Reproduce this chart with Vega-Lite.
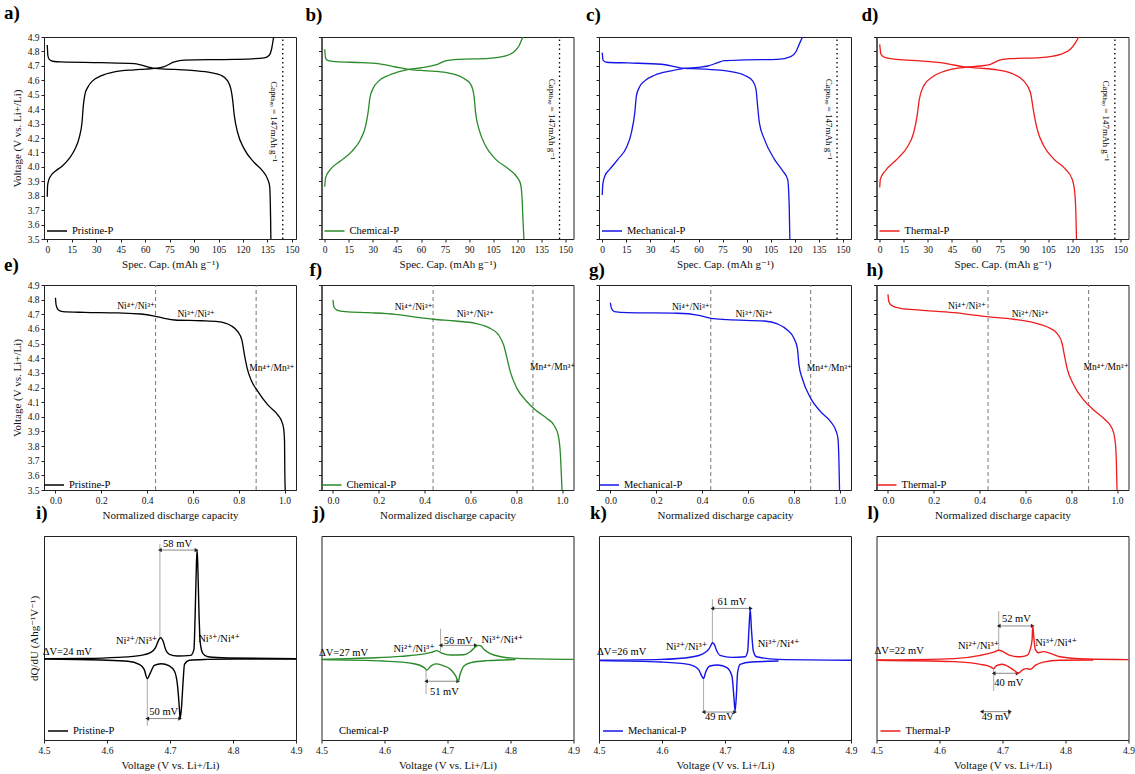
{
"$schema":"https://vega.github.io/schema/vega-lite/v6.json",
"background":"white",
"padding":{"left":3,"top":3,"right":0,"bottom":0},
"autosize":{"type":"pad"},
"config":{
"font":"'Liberation Serif', 'Times New Roman', 'DejaVu Serif', serif",
"view":{"stroke":"#222","strokeWidth":1},
"axis":{"grid":false,"labelFont":"'Liberation Serif', 'Times New Roman', 'DejaVu Serif', serif","titleFont":"'Liberation Serif', 'Times New Roman', 'DejaVu Serif', serif","labelFontSize":9.5,"titleFontSize":11,"titleFontWeight":"normal","labelColor":"#111","titleColor":"#111","tickColor":"#222","domainColor":"#222","tickSize":3,"labelPadding":2,"titlePadding":5,"labelFlush":false,"labelOverlap":false},
"legend":{"orient":"bottom-left","symbolType":"stroke","symbolSize":400,"symbolStrokeWidth":1.5,"labelFont":"'Liberation Serif', 'Times New Roman', 'DejaVu Serif', serif","labelFontSize":10.5,"labelColor":"#000","padding":0,"labelOffset":4},
"title":{"font":"'Liberation Serif', 'Times New Roman', 'DejaVu Serif', serif","fontSize":19,"fontWeight":"bold","anchor":"start","frame":"group","color":"#000"},
"text":{"font":"'Liberation Serif', 'Times New Roman', 'DejaVu Serif', serif"}
},
"datasets":{
"vr":[
{"p":"a","x":144.4,"y":3.5,"y2":4.9},{"p":"b","x":146.3,"y":3.5,"y2":4.9},{"p":"c","x":146.3,"y":3.5,"y2":4.9},{"p":"d","x":146.5,"y":3.5,"y2":4.9},
{"p":"e","x":0.437,"y":3.5,"y2":4.9},{"p":"e","x":0.876,"y":3.5,"y2":4.9},{"p":"f","x":0.437,"y":3.5,"y2":4.9},{"p":"f","x":0.873,"y":3.5,"y2":4.9},
{"p":"g","x":0.438,"y":3.5,"y2":4.9},{"p":"g","x":0.874,"y":3.5,"y2":4.9},{"p":"h","x":0.437,"y":3.5,"y2":4.9},{"p":"h","x":0.876,"y":3.5,"y2":4.9},
{"p":"i","x":4.684,"y":50,"y2":96},{"p":"i","x":4.664,"y":7,"y2":30},
{"p":"j","x":4.689,"y":43.6,"y2":54.6},{"p":"j","x":4.666,"y":22.4,"y2":34.3},
{"p":"k","x":4.68,"y":47.7,"y2":69},{"p":"k","x":4.666,"y":13.7,"y2":30.1},
{"p":"l","x":4.694,"y":43.6,"y2":63.2},{"p":"l","x":4.686,"y":24,"y2":35}
],
"ar":[
{"p":"i","x":4.684,"x2":4.742,"y":93.1},{"p":"i","x":4.664,"x2":4.716,"y":10.5},
{"p":"j","x":4.689,"x2":4.745,"y":46.4},{"p":"j","x":4.666,"x2":4.717,"y":28.8},
{"p":"k","x":4.68,"x2":4.741,"y":64.5},{"p":"k","x":4.666,"x2":4.716,"y":13.7},
{"p":"l","x":4.694,"x2":4.748,"y":55.9},{"p":"l","x":4.686,"x2":4.724,"y":32.7},{"p":"l","x":4.667,"x2":4.712,"y":13.9}
],
"cap":[
{"p":"a","x":139.2,"y":4.314,"t":"Capₜₕₑₒ = 147mAh g⁻¹"},{"p":"b","x":141.7,"y":4.33,"t":"Capₜₕₑₒ = 147mAh g⁻¹"},{"p":"c","x":141.3,"y":4.33,"t":"Capₜₕₑₒ = 147mAh g⁻¹"},{"p":"d","x":141.1,"y":4.319,"t":"Capₜₕₑₒ = 147mAh g⁻¹"}
],
"tx":[
{"p":"e","x":0.352,"y":4.757,"t":"Ni⁴⁺/Ni³⁺"},{"p":"e","x":0.614,"y":4.702,"t":"Ni³⁺/Ni²⁺"},{"p":"e","x":0.945,"y":4.335,"t":"Mn⁴⁺/Mn³⁺"},
{"p":"f","x":0.352,"y":4.752,"t":"Ni⁴⁺/Ni³⁺"},{"p":"f","x":0.622,"y":4.7,"t":"Ni³⁺/Ni²⁺"},{"p":"f","x":0.959,"y":4.342,"t":"Mn⁴⁺/Mn³⁺"},
{"p":"g","x":0.351,"y":4.747,"t":"Ni⁴⁺/Ni³⁺"},{"p":"g","x":0.627,"y":4.702,"t":"Ni³⁺/Ni²⁺"},{"p":"g","x":0.956,"y":4.335,"t":"Mn⁴⁺/Mn³⁺"},
{"p":"h","x":0.345,"y":4.757,"t":"Ni⁴⁺/Ni³⁺"},{"p":"h","x":0.622,"y":4.702,"t":"Ni³⁺/Ni²⁺"},{"p":"h","x":0.952,"y":4.338,"t":"Mn⁴⁺/Mn³⁺"},
{"p":"i","x":4.537,"y":43.1,"t":"ΔV=24 mV"},{"p":"i","x":4.647,"y":48.5,"t":"Ni²⁺/Ni³⁺"},{"p":"i","x":4.778,"y":49.3,"t":"Ni³⁺/Ni⁴⁺"},{"p":"i","x":4.712,"y":95.9,"t":"58 mV"},{"p":"i","x":4.69,"y":13.7,"t":"50 mV"},
{"p":"j","x":4.535,"y":42.8,"t":"ΔV=27 mV"},{"p":"j","x":4.647,"y":44.4,"t":"Ni²⁺/Ni³⁺"},{"p":"j","x":4.787,"y":48.9,"t":"Ni³⁺/Ni⁴⁺"},{"p":"j","x":4.717,"y":48.4,"t":"56 mV"},{"p":"j","x":4.695,"y":23.7,"t":"51 mV"},
{"p":"k","x":4.536,"y":43.1,"t":"ΔV=26 mV"},{"p":"k","x":4.639,"y":45.8,"t":"Ni²⁺/Ni³⁺"},{"p":"k","x":4.785,"y":46.9,"t":"Ni³⁺/Ni⁴⁺"},{"p":"k","x":4.711,"y":67.6,"t":"61 mV"},{"p":"k","x":4.691,"y":11.3,"t":"49 mV"},
{"p":"l","x":4.536,"y":43.6,"t":"ΔV=22 mV"},{"p":"l","x":4.662,"y":46.1,"t":"Ni²⁺/Ni³⁺"},{"p":"l","x":4.785,"y":47.7,"t":"Ni³⁺/Ni⁴⁺"},{"p":"l","x":4.722,"y":59.2,"t":"52 mV"},{"p":"l","x":4.71,"y":28.1,"t":"40 mV"},{"p":"l","x":4.69,"y":11.4,"t":"49 mV"}
],
"cv":[
{"p":"a","s":"c","x":0,"y":3.793},{"p":"a","s":"c","x":0.2,"y":3.87},{"p":"a","s":"c","x":0.8,"y":3.904},{"p":"a","s":"c","x":2.2,"y":3.938},{"p":"a","s":"c","x":5.3,"y":3.973},{"p":"a","s":"c","x":9.4,"y":4.007},{"p":"a","s":"c","x":13.5,"y":4.058},{"p":"a","s":"c","x":17,"y":4.123},{"p":"a","s":"c","x":19.6,"y":4.203},{"p":"a","s":"c","x":21.3,"y":4.307},{"p":"a","s":"c","x":22.1,"y":4.423},{"p":"a","s":"c","x":23.1,"y":4.503},{"p":"a","s":"c","x":24.7,"y":4.549},{"p":"a","s":"c","x":27.8,"y":4.596},{"p":"a","s":"c","x":32.9,"y":4.63},{"p":"a","s":"c","x":41.1,"y":4.658},{"p":"a","s":"c","x":53.3,"y":4.672},{"p":"a","s":"c","x":60,"y":4.677},{"p":"a","s":"c","x":66,"y":4.682},{"p":"a","s":"c","x":71.7,"y":4.695},{"p":"a","s":"c","x":77.9,"y":4.727},{"p":"a","s":"c","x":84,"y":4.74},{"p":"a","s":"c","x":114.7,"y":4.745},{"p":"a","s":"c","x":133,"y":4.755},{"p":"a","s":"c","x":136.1,"y":4.773},{"p":"a","s":"c","x":137.5,"y":4.815},{"p":"a","s":"c","x":138.4,"y":4.872},{"p":"a","s":"c","x":138.8,"y":4.9},
{"p":"a","s":"d","x":0,"y":4.845},{"p":"a","s":"d","x":0.4,"y":4.77},{"p":"a","s":"d","x":1.2,"y":4.745},{"p":"a","s":"d","x":3.3,"y":4.732},{"p":"a","s":"d","x":8.4,"y":4.727},{"p":"a","s":"d","x":32.9,"y":4.722},{"p":"a","s":"d","x":53.3,"y":4.715},{"p":"a","s":"d","x":57.4,"y":4.706},{"p":"a","s":"d","x":62,"y":4.692},{"p":"a","s":"d","x":66,"y":4.682},{"p":"a","s":"d","x":72,"y":4.678},{"p":"a","s":"d","x":77.9,"y":4.675},{"p":"a","s":"d","x":90.1,"y":4.667},{"p":"a","s":"d","x":100.3,"y":4.653},{"p":"a","s":"d","x":106.5,"y":4.635},{"p":"a","s":"d","x":110.6,"y":4.596},{"p":"a","s":"d","x":112.6,"y":4.538},{"p":"a","s":"d","x":113.6,"y":4.469},{"p":"a","s":"d","x":114.7,"y":4.353},{"p":"a","s":"d","x":116.7,"y":4.238},{"p":"a","s":"d","x":120.8,"y":4.123},{"p":"a","s":"d","x":126.9,"y":4.03},{"p":"a","s":"d","x":132,"y":3.973},{"p":"a","s":"d","x":135.1,"y":3.915},{"p":"a","s":"d","x":136.3,"y":3.869},{"p":"a","s":"d","x":136.7,"y":3.777},{"p":"a","s":"d","x":136.9,"y":3.662},{"p":"a","s":"d","x":137.1,"y":3.5},
{"p":"b","s":"c","x":0,"y":3.862},{"p":"b","s":"c","x":0.6,"y":3.927},{"p":"b","s":"c","x":3.7,"y":3.984},{"p":"b","s":"c","x":10,"y":4.042},{"p":"b","s":"c","x":17.2,"y":4.111},{"p":"b","s":"c","x":22.4,"y":4.192},{"p":"b","s":"c","x":25.5,"y":4.284},{"p":"b","s":"c","x":27,"y":4.376},{"p":"b","s":"c","x":28.2,"y":4.48},{"p":"b","s":"c","x":30.1,"y":4.543},{"p":"b","s":"c","x":33.8,"y":4.596},{"p":"b","s":"c","x":40,"y":4.635},{"p":"b","s":"c","x":48.3,"y":4.665},{"p":"b","s":"c","x":52.5,"y":4.675},{"p":"b","s":"c","x":60.8,"y":4.688},{"p":"b","s":"c","x":69.1,"y":4.706},{"p":"b","s":"c","x":75.3,"y":4.734},{"p":"b","s":"c","x":83.6,"y":4.745},{"p":"b","s":"c","x":102.3,"y":4.752},{"p":"b","s":"c","x":112.7,"y":4.769},{"p":"b","s":"c","x":117.8,"y":4.796},{"p":"b","s":"c","x":121,"y":4.838},{"p":"b","s":"c","x":123.4,"y":4.9},
{"p":"b","s":"d","x":0,"y":4.815},{"p":"b","s":"d","x":0.6,"y":4.75},{"p":"b","s":"d","x":2.7,"y":4.734},{"p":"b","s":"d","x":6.8,"y":4.729},{"p":"b","s":"d","x":23.4,"y":4.722},{"p":"b","s":"d","x":35.9,"y":4.711},{"p":"b","s":"d","x":44.2,"y":4.692},{"p":"b","s":"d","x":52.5,"y":4.675},{"p":"b","s":"d","x":60,"y":4.668},{"p":"b","s":"d","x":69.1,"y":4.662},{"p":"b","s":"d","x":77.4,"y":4.649},{"p":"b","s":"d","x":85.7,"y":4.619},{"p":"b","s":"d","x":90.9,"y":4.573},{"p":"b","s":"d","x":93,"y":4.492},{"p":"b","s":"d","x":94,"y":4.376},{"p":"b","s":"d","x":96.1,"y":4.261},{"p":"b","s":"d","x":100.2,"y":4.146},{"p":"b","s":"d","x":106.4,"y":4.054},{"p":"b","s":"d","x":114.7,"y":3.984},{"p":"b","s":"d","x":119.9,"y":3.927},{"p":"b","s":"d","x":122,"y":3.881},{"p":"b","s":"d","x":123,"y":3.777},{"p":"b","s":"d","x":123.4,"y":3.662},{"p":"b","s":"d","x":124.1,"y":3.5},
{"p":"c","s":"c","x":0,"y":3.805},{"p":"c","s":"c","x":0.4,"y":3.881},{"p":"c","s":"c","x":1.7,"y":3.938},{"p":"c","s":"c","x":4.8,"y":3.984},{"p":"c","s":"c","x":9.9,"y":4.054},{"p":"c","s":"c","x":15.1,"y":4.134},{"p":"c","s":"c","x":18.2,"y":4.238},{"p":"c","s":"c","x":20.3,"y":4.376},{"p":"c","s":"c","x":21.3,"y":4.492},{"p":"c","s":"c","x":23,"y":4.549},{"p":"c","s":"c","x":26.5,"y":4.596},{"p":"c","s":"c","x":32.7,"y":4.635},{"p":"c","s":"c","x":43,"y":4.665},{"p":"c","s":"c","x":51,"y":4.682},{"p":"c","s":"c","x":59.6,"y":4.69},{"p":"c","s":"c","x":65.8,"y":4.699},{"p":"c","s":"c","x":72,"y":4.722},{"p":"c","s":"c","x":76.1,"y":4.736},{"p":"c","s":"c","x":88.6,"y":4.741},{"p":"c","s":"c","x":109.2,"y":4.745},{"p":"c","s":"c","x":117.5,"y":4.764},{"p":"c","s":"c","x":120.6,"y":4.796},{"p":"c","s":"c","x":122.7,"y":4.849},{"p":"c","s":"c","x":124.8,"y":4.9},
{"p":"c","s":"d","x":0,"y":4.792},{"p":"c","s":"d","x":0.6,"y":4.738},{"p":"c","s":"d","x":2.7,"y":4.725},{"p":"c","s":"d","x":16.1,"y":4.72},{"p":"c","s":"d","x":36.8,"y":4.711},{"p":"c","s":"d","x":45.1,"y":4.695},{"p":"c","s":"d","x":51,"y":4.682},{"p":"c","s":"d","x":60,"y":4.679},{"p":"c","s":"d","x":67.9,"y":4.674},{"p":"c","s":"d","x":80.3,"y":4.66},{"p":"c","s":"d","x":88.6,"y":4.635},{"p":"c","s":"d","x":93.7,"y":4.596},{"p":"c","s":"d","x":95.8,"y":4.538},{"p":"c","s":"d","x":96.8,"y":4.423},{"p":"c","s":"d","x":97.9,"y":4.307},{"p":"c","s":"d","x":101,"y":4.192},{"p":"c","s":"d","x":107.2,"y":4.054},{"p":"c","s":"d","x":112.4,"y":3.973},{"p":"c","s":"d","x":115.5,"y":3.915},{"p":"c","s":"d","x":116.1,"y":3.846},{"p":"c","s":"d","x":116.5,"y":3.731},{"p":"c","s":"d","x":116.9,"y":3.5},
{"p":"d","s":"c","x":0,"y":3.858},{"p":"d","s":"c","x":0.4,"y":3.915},{"p":"d","s":"c","x":3.5,"y":3.973},{"p":"d","s":"c","x":10.8,"y":4.054},{"p":"d","s":"c","x":17,"y":4.134},{"p":"d","s":"c","x":21.2,"y":4.238},{"p":"d","s":"c","x":23.3,"y":4.353},{"p":"d","s":"c","x":24.7,"y":4.469},{"p":"d","s":"c","x":27.4,"y":4.561},{"p":"d","s":"c","x":33.7,"y":4.63},{"p":"d","s":"c","x":42,"y":4.669},{"p":"d","s":"c","x":54,"y":4.691},{"p":"d","s":"c","x":62.7,"y":4.699},{"p":"d","s":"c","x":69,"y":4.711},{"p":"d","s":"c","x":75.2,"y":4.741},{"p":"d","s":"c","x":81.4,"y":4.75},{"p":"d","s":"c","x":100.1,"y":4.757},{"p":"d","s":"c","x":112.6,"y":4.78},{"p":"d","s":"c","x":118.8,"y":4.815},{"p":"d","s":"c","x":122,"y":4.861},{"p":"d","s":"c","x":124,"y":4.9},
{"p":"d","s":"d","x":0,"y":4.849},{"p":"d","s":"d","x":0.8,"y":4.78},{"p":"d","s":"d","x":3.5,"y":4.757},{"p":"d","s":"d","x":10.8,"y":4.745},{"p":"d","s":"d","x":25.3,"y":4.734},{"p":"d","s":"d","x":37.8,"y":4.722},{"p":"d","s":"d","x":46.1,"y":4.706},{"p":"d","s":"d","x":54,"y":4.691},{"p":"d","s":"d","x":62.7,"y":4.684},{"p":"d","s":"d","x":73.1,"y":4.672},{"p":"d","s":"d","x":83.5,"y":4.642},{"p":"d","s":"d","x":89.7,"y":4.596},{"p":"d","s":"d","x":93.9,"y":4.515},{"p":"d","s":"d","x":96,"y":4.376},{"p":"d","s":"d","x":98.1,"y":4.261},{"p":"d","s":"d","x":102.2,"y":4.146},{"p":"d","s":"d","x":108.5,"y":4.054},{"p":"d","s":"d","x":115.7,"y":3.984},{"p":"d","s":"d","x":119.9,"y":3.915},{"p":"d","s":"d","x":121.5,"y":3.823},{"p":"d","s":"d","x":122.2,"y":3.685},{"p":"d","s":"d","x":122.6,"y":3.5},
{"p":"e","s":"d","x":0,"y":4.813},{"p":"e","s":"d","x":0.003,"y":4.763},{"p":"e","s":"d","x":0.013,"y":4.729},{"p":"e","s":"d","x":0.032,"y":4.718},{"p":"e","s":"d","x":0.127,"y":4.713},{"p":"e","s":"d","x":0.272,"y":4.709},{"p":"e","s":"d","x":0.374,"y":4.702},{"p":"e","s":"d","x":0.432,"y":4.688},{"p":"e","s":"d","x":0.476,"y":4.672},{"p":"e","s":"d","x":0.52,"y":4.661},{"p":"e","s":"d","x":0.636,"y":4.656},{"p":"e","s":"d","x":0.709,"y":4.65},{"p":"e","s":"d","x":0.767,"y":4.622},{"p":"e","s":"d","x":0.796,"y":4.581},{"p":"e","s":"d","x":0.814,"y":4.524},{"p":"e","s":"d","x":0.825,"y":4.422},{"p":"e","s":"d","x":0.837,"y":4.331},{"p":"e","s":"d","x":0.854,"y":4.251},{"p":"e","s":"d","x":0.884,"y":4.172},{"p":"e","s":"d","x":0.927,"y":4.081},{"p":"e","s":"d","x":0.971,"y":4.012},{"p":"e","s":"d","x":0.988,"y":3.967},{"p":"e","s":"d","x":0.996,"y":3.921},{"p":"e","s":"d","x":1,"y":3.83},{"p":"e","s":"d","x":1.001,"y":3.648},{"p":"e","s":"d","x":1.003,"y":3.5},
{"p":"f","s":"d","x":0,"y":4.798},{"p":"f","s":"d","x":0.004,"y":4.752},{"p":"f","s":"d","x":0.017,"y":4.729},{"p":"f","s":"d","x":0.054,"y":4.718},{"p":"f","s":"d","x":0.156,"y":4.711},{"p":"f","s":"d","x":0.272,"y":4.7},{"p":"f","s":"d","x":0.36,"y":4.681},{"p":"f","s":"d","x":0.44,"y":4.666},{"p":"f","s":"d","x":0.534,"y":4.654},{"p":"f","s":"d","x":0.622,"y":4.638},{"p":"f","s":"d","x":0.68,"y":4.609},{"p":"f","s":"d","x":0.723,"y":4.559},{"p":"f","s":"d","x":0.745,"y":4.49},{"p":"f","s":"d","x":0.76,"y":4.399},{"p":"f","s":"d","x":0.774,"y":4.308},{"p":"f","s":"d","x":0.803,"y":4.194},{"p":"f","s":"d","x":0.847,"y":4.103},{"p":"f","s":"d","x":0.884,"y":4.046},{"p":"f","s":"d","x":0.934,"y":3.989},{"p":"f","s":"d","x":0.964,"y":3.944},{"p":"f","s":"d","x":0.983,"y":3.876},{"p":"f","s":"d","x":0.993,"y":3.739},{"p":"f","s":"d","x":0.997,"y":3.603},{"p":"f","s":"d","x":1,"y":3.5},
{"p":"g","s":"d","x":0,"y":4.779},{"p":"g","s":"d","x":0.004,"y":4.741},{"p":"g","s":"d","x":0.017,"y":4.718},{"p":"g","s":"d","x":0.075,"y":4.711},{"p":"g","s":"d","x":0.293,"y":4.707},{"p":"g","s":"d","x":0.38,"y":4.695},{"p":"g","s":"d","x":0.438,"y":4.672},{"p":"g","s":"d","x":0.511,"y":4.663},{"p":"g","s":"d","x":0.671,"y":4.654},{"p":"g","s":"d","x":0.729,"y":4.634},{"p":"g","s":"d","x":0.772,"y":4.593},{"p":"g","s":"d","x":0.801,"y":4.536},{"p":"g","s":"d","x":0.816,"y":4.467},{"p":"g","s":"d","x":0.823,"y":4.354},{"p":"g","s":"d","x":0.837,"y":4.263},{"p":"g","s":"d","x":0.874,"y":4.126},{"p":"g","s":"d","x":0.917,"y":4.035},{"p":"g","s":"d","x":0.961,"y":3.967},{"p":"g","s":"d","x":0.983,"y":3.91},{"p":"g","s":"d","x":0.993,"y":3.853},{"p":"g","s":"d","x":0.997,"y":3.716},{"p":"g","s":"d","x":1,"y":3.5},
{"p":"h","s":"d","x":0,"y":4.836},{"p":"h","s":"d","x":0.004,"y":4.786},{"p":"h","s":"d","x":0.017,"y":4.759},{"p":"h","s":"d","x":0.054,"y":4.741},{"p":"h","s":"d","x":0.141,"y":4.729},{"p":"h","s":"d","x":0.287,"y":4.711},{"p":"h","s":"d","x":0.432,"y":4.684},{"p":"h","s":"d","x":0.549,"y":4.666},{"p":"h","s":"d","x":0.636,"y":4.643},{"p":"h","s":"d","x":0.694,"y":4.615},{"p":"h","s":"d","x":0.738,"y":4.57},{"p":"h","s":"d","x":0.76,"y":4.502},{"p":"h","s":"d","x":0.77,"y":4.422},{"p":"h","s":"d","x":0.782,"y":4.331},{"p":"h","s":"d","x":0.811,"y":4.217},{"p":"h","s":"d","x":0.854,"y":4.115},{"p":"h","s":"d","x":0.898,"y":4.046},{"p":"h","s":"d","x":0.949,"y":3.978},{"p":"h","s":"d","x":0.978,"y":3.921},{"p":"h","s":"d","x":0.99,"y":3.853},{"p":"h","s":"d","x":0.996,"y":3.739},{"p":"h","s":"d","x":1,"y":3.5},
{"p":"i","s":"u","x":4.5,"y":39.9},{"p":"i","s":"u","x":4.564,"y":40},{"p":"i","s":"u","x":4.617,"y":40.5},{"p":"i","s":"u","x":4.654,"y":41.5},{"p":"i","s":"u","x":4.669,"y":42.8},{"p":"i","s":"u","x":4.677,"y":45.3},{"p":"i","s":"u","x":4.682,"y":49},{"p":"i","s":"u","x":4.685,"y":50.2},{"p":"i","s":"u","x":4.689,"y":48.5},{"p":"i","s":"u","x":4.693,"y":44.4},{"p":"i","s":"u","x":4.699,"y":42},{"p":"i","s":"u","x":4.712,"y":41.2},{"p":"i","s":"u","x":4.733,"y":41.5},{"p":"i","s":"u","x":4.738,"y":44.4},{"p":"i","s":"u","x":4.74,"y":62.4},{"p":"i","s":"u","x":4.742,"y":86.9},{"p":"i","s":"u","x":4.743,"y":93.1},{"p":"i","s":"u","x":4.744,"y":86.9},{"p":"i","s":"u","x":4.746,"y":62.4},{"p":"i","s":"u","x":4.748,"y":47.7},{"p":"i","s":"u","x":4.752,"y":42.5},{"p":"i","s":"u","x":4.76,"y":40.8},{"p":"i","s":"u","x":4.792,"y":40.2},{"p":"i","s":"u","x":4.9,"y":39.9},
{"p":"i","s":"d","x":4.5,"y":39.7},{"p":"i","s":"d","x":4.59,"y":39.2},{"p":"i","s":"d","x":4.633,"y":38.6},{"p":"i","s":"d","x":4.651,"y":37.1},{"p":"i","s":"d","x":4.659,"y":34.6},{"p":"i","s":"d","x":4.664,"y":30.1},{"p":"i","s":"d","x":4.669,"y":33},{"p":"i","s":"d","x":4.675,"y":36.6},{"p":"i","s":"d","x":4.686,"y":37.4},{"p":"i","s":"d","x":4.699,"y":36.3},{"p":"i","s":"d","x":4.707,"y":33.8},{"p":"i","s":"d","x":4.712,"y":26.5},{"p":"i","s":"d","x":4.715,"y":15},{"p":"i","s":"d","x":4.716,"y":10.5},{"p":"i","s":"d","x":4.718,"y":15},{"p":"i","s":"d","x":4.721,"y":29.7},{"p":"i","s":"d","x":4.723,"y":37.1},{"p":"i","s":"d","x":4.731,"y":39.1},{"p":"i","s":"d","x":4.76,"y":39.5},{"p":"i","s":"d","x":4.802,"y":39.7},{"p":"i","s":"d","x":4.9,"y":39.7},
{"p":"j","s":"u","x":4.5,"y":39.5},{"p":"j","s":"u","x":4.573,"y":40.2},{"p":"j","s":"u","x":4.626,"y":41},{"p":"j","s":"u","x":4.663,"y":42.2},{"p":"j","s":"u","x":4.676,"y":43.1},{"p":"j","s":"u","x":4.683,"y":43.8},{"p":"j","s":"u","x":4.688,"y":43.1},{"p":"j","s":"u","x":4.692,"y":42.5},{"p":"j","s":"u","x":4.705,"y":41.7},{"p":"j","s":"u","x":4.726,"y":41.8},{"p":"j","s":"u","x":4.737,"y":43.5},{"p":"j","s":"u","x":4.745,"y":45.8},{"p":"j","s":"u","x":4.749,"y":46.4},{"p":"j","s":"u","x":4.753,"y":46.1},{"p":"j","s":"u","x":4.758,"y":44.4},{"p":"j","s":"u","x":4.769,"y":42.2},{"p":"j","s":"u","x":4.785,"y":40.8},{"p":"j","s":"u","x":4.811,"y":40},{"p":"j","s":"u","x":4.9,"y":39.5},
{"p":"j","s":"d","x":4.5,"y":39.4},{"p":"j","s":"d","x":4.599,"y":38.7},{"p":"j","s":"d","x":4.647,"y":37.4},{"p":"j","s":"d","x":4.663,"y":35.5},{"p":"j","s":"d","x":4.667,"y":34.3},{"p":"j","s":"d","x":4.674,"y":36.3},{"p":"j","s":"d","x":4.681,"y":37.3},{"p":"j","s":"d","x":4.692,"y":36.6},{"p":"j","s":"d","x":4.705,"y":34.6},{"p":"j","s":"d","x":4.713,"y":31.4},{"p":"j","s":"d","x":4.717,"y":28.9},{"p":"j","s":"d","x":4.72,"y":32.2},{"p":"j","s":"d","x":4.726,"y":36.3},{"p":"j","s":"d","x":4.737,"y":37.9},{"p":"j","s":"d","x":4.763,"y":38.9},{"p":"j","s":"d","x":4.808,"y":39.4},
{"p":"k","s":"u","x":4.5,"y":39.1},{"p":"k","s":"u","x":4.599,"y":39.5},{"p":"k","s":"u","x":4.647,"y":40.7},{"p":"k","s":"u","x":4.663,"y":42},{"p":"k","s":"u","x":4.674,"y":44.4},{"p":"k","s":"u","x":4.679,"y":47.2},{"p":"k","s":"u","x":4.68,"y":47.7},{"p":"k","s":"u","x":4.683,"y":46.9},{"p":"k","s":"u","x":4.687,"y":43.6},{"p":"k","s":"u","x":4.692,"y":41.5},{"p":"k","s":"u","x":4.711,"y":40.5},{"p":"k","s":"u","x":4.732,"y":40.8},{"p":"k","s":"u","x":4.736,"y":43.6},{"p":"k","s":"u","x":4.738,"y":54.2},{"p":"k","s":"u","x":4.74,"y":64.1},{"p":"k","s":"u","x":4.742,"y":54.2},{"p":"k","s":"u","x":4.745,"y":43.6},{"p":"k","s":"u","x":4.75,"y":40.8},{"p":"k","s":"u","x":4.785,"y":39.5},{"p":"k","s":"u","x":4.9,"y":39.1},
{"p":"k","s":"d","x":4.5,"y":38.9},{"p":"k","s":"d","x":4.599,"y":38.2},{"p":"k","s":"d","x":4.642,"y":37.1},{"p":"k","s":"d","x":4.658,"y":34.6},{"p":"k","s":"d","x":4.663,"y":31.4},{"p":"k","s":"d","x":4.666,"y":30.1},{"p":"k","s":"d","x":4.669,"y":33},{"p":"k","s":"d","x":4.676,"y":36.3},{"p":"k","s":"d","x":4.689,"y":36.8},{"p":"k","s":"d","x":4.703,"y":35.5},{"p":"k","s":"d","x":4.711,"y":31.4},{"p":"k","s":"d","x":4.714,"y":21.6},{"p":"k","s":"d","x":4.716,"y":14.2},{"p":"k","s":"d","x":4.718,"y":21.6},{"p":"k","s":"d","x":4.72,"y":33},{"p":"k","s":"d","x":4.724,"y":37.1},{"p":"k","s":"d","x":4.742,"y":38.2},{"p":"k","s":"d","x":4.785,"y":38.7},
{"p":"l","s":"u","x":4.5,"y":39.2},{"p":"l","s":"u","x":4.623,"y":39.9},{"p":"l","s":"u","x":4.665,"y":41.5},{"p":"l","s":"u","x":4.686,"y":43.1},{"p":"l","s":"u","x":4.694,"y":44},{"p":"l","s":"u","x":4.702,"y":43.1},{"p":"l","s":"u","x":4.712,"y":41.5},{"p":"l","s":"u","x":4.728,"y":40.8},{"p":"l","s":"u","x":4.739,"y":41.5},{"p":"l","s":"u","x":4.744,"y":44.4},{"p":"l","s":"u","x":4.747,"y":49.3},{"p":"l","s":"u","x":4.748,"y":55.9},{"p":"l","s":"u","x":4.75,"y":49.3},{"p":"l","s":"u","x":4.752,"y":44.4},{"p":"l","s":"u","x":4.757,"y":42.8},{"p":"l","s":"u","x":4.765,"y":43.3},{"p":"l","s":"u","x":4.776,"y":42.5},{"p":"l","s":"u","x":4.791,"y":40.8},{"p":"l","s":"u","x":4.834,"y":39.7},{"p":"l","s":"u","x":4.9,"y":39.4},
{"p":"l","s":"d","x":4.5,"y":39.1},{"p":"l","s":"d","x":4.623,"y":38.4},{"p":"l","s":"d","x":4.665,"y":37.1},{"p":"l","s":"d","x":4.681,"y":35.9},{"p":"l","s":"d","x":4.686,"y":35},{"p":"l","s":"d","x":4.69,"y":36.3},{"p":"l","s":"d","x":4.699,"y":37.1},{"p":"l","s":"d","x":4.712,"y":35.5},{"p":"l","s":"d","x":4.72,"y":33.8},{"p":"l","s":"d","x":4.724,"y":32.7},{"p":"l","s":"d","x":4.728,"y":33.3},{"p":"l","s":"d","x":4.733,"y":34.6},{"p":"l","s":"d","x":4.739,"y":35},{"p":"l","s":"d","x":4.744,"y":34.6},{"p":"l","s":"d","x":4.752,"y":36.6},{"p":"l","s":"d","x":4.765,"y":38.2},{"p":"l","s":"d","x":4.791,"y":39.1},{"p":"l","s":"d","x":4.844,"y":39.2}
]
},
"columns":4,
"spacing":{"row":46,"column":25.5},
"bounds":"flush",
"resolve":{"scale":{"x":"independent","y":"independent","color":"independent"},"legend":{"color":"independent"}},
"concat":[
{"title":{"text":"a)","dx":-40,"offset":9},"width":252,"height":202,
"encoding":{"x":{"field":"x","type":"quantitative","scale":{"domain":[-2,152.5],"nice":false,"zero":false},"axis":{"values":[0,15,30,45,60,75,90,105,120,135,150],"title":"Spec. Cap. (mAh g⁻¹)"}},"y":{"field":"y","type":"quantitative","scale":{"domain":[3.5,4.9],"nice":false,"zero":false},"axis":{"values":[3.5,3.6,3.7,3.8,3.9,4,4.1,4.2,4.3,4.4,4.5,4.6,4.7,4.8,4.9],"format":".1f","title":"Voltage (V vs. Li+/Li)"}}},
"layer":[
{"data":{"name":"vr"},"transform":[{"filter":"datum.p==='a'"}],"mark":{"type":"rule","color":"#000","strokeWidth":1.3,"strokeDash":[1.5,3]},"encoding":{"y2":{"field":"y2"}}},
{"data":{"name":"cap"},"transform":[{"filter":"datum.p==='a'"}],"mark":{"type":"text","angle":90,"fontSize":9,"color":"#000","align":"center","baseline":"middle"},"encoding":{"text":{"field":"t"}}},
{"data":{"name":"cv"},"transform":[{"filter":"datum.p==='a'"}],"mark":{"type":"line","strokeWidth":1.3,"interpolate":"monotone"},"encoding":{"detail":{"field":"s"},"color":{"datum":"Pristine-P","scale":{"range":["#000000"]},"legend":{"title":null,"offset":2}}}}
]},
{"title":{"text":"b)","dx":-16,"offset":9},"width":252,"height":202,
"encoding":{"x":{"field":"x","type":"quantitative","scale":{"domain":[-2,155],"nice":false,"zero":false},"axis":{"values":[0,15,30,45,60,75,90,105,120,135,150],"title":"Spec. Cap. (mAh g⁻¹)"}},"y":{"field":"y","type":"quantitative","scale":{"domain":[3.5,4.9],"nice":false,"zero":false},"axis":{"values":[3.5,3.6,3.7,3.8,3.9,4,4.1,4.2,4.3,4.4,4.5,4.6,4.7,4.8,4.9],"labels":false,"title":null}}},
"layer":[
{"data":{"name":"vr"},"transform":[{"filter":"datum.p==='b'"}],"mark":{"type":"rule","color":"#000","strokeWidth":1.3,"strokeDash":[1.5,3]},"encoding":{"y2":{"field":"y2"}}},
{"data":{"name":"cap"},"transform":[{"filter":"datum.p==='b'"}],"mark":{"type":"text","angle":90,"fontSize":9,"color":"#000","align":"center","baseline":"middle"},"encoding":{"text":{"field":"t"}}},
{"data":{"name":"cv"},"transform":[{"filter":"datum.p==='b'"}],"mark":{"type":"line","strokeWidth":1.3,"interpolate":"monotone"},"encoding":{"detail":{"field":"s"},"color":{"datum":"Chemical-P","scale":{"range":["#2a8a2a"]},"legend":{"title":null,"offset":2}}}}
]},
{"title":{"text":"c)","dx":-13,"offset":9},"width":252,"height":202,
"encoding":{"x":{"field":"x","type":"quantitative","scale":{"domain":[-2,155],"nice":false,"zero":false},"axis":{"values":[0,15,30,45,60,75,90,105,120,135,150],"title":"Spec. Cap. (mAh g⁻¹)"}},"y":{"field":"y","type":"quantitative","scale":{"domain":[3.5,4.9],"nice":false,"zero":false},"axis":{"values":[3.5,3.6,3.7,3.8,3.9,4,4.1,4.2,4.3,4.4,4.5,4.6,4.7,4.8,4.9],"labels":false,"title":null}}},
"layer":[
{"data":{"name":"vr"},"transform":[{"filter":"datum.p==='c'"}],"mark":{"type":"rule","color":"#000","strokeWidth":1.3,"strokeDash":[1.5,3]},"encoding":{"y2":{"field":"y2"}}},
{"data":{"name":"cap"},"transform":[{"filter":"datum.p==='c'"}],"mark":{"type":"text","angle":90,"fontSize":9,"color":"#000","align":"center","baseline":"middle"},"encoding":{"text":{"field":"t"}}},
{"data":{"name":"cv"},"transform":[{"filter":"datum.p==='c'"}],"mark":{"type":"line","strokeWidth":1.3,"interpolate":"monotone"},"encoding":{"detail":{"field":"s"},"color":{"datum":"Mechanical-P","scale":{"range":["#1414e6"]},"legend":{"title":null,"offset":2}}}}
]},
{"title":{"text":"d)","dx":-15,"offset":9},"width":252,"height":202,
"encoding":{"x":{"field":"x","type":"quantitative","scale":{"domain":[-2,155],"nice":false,"zero":false},"axis":{"values":[0,15,30,45,60,75,90,105,120,135,150],"title":"Spec. Cap. (mAh g⁻¹)"}},"y":{"field":"y","type":"quantitative","scale":{"domain":[3.5,4.9],"nice":false,"zero":false},"axis":{"values":[3.5,3.6,3.7,3.8,3.9,4,4.1,4.2,4.3,4.4,4.5,4.6,4.7,4.8,4.9],"labels":false,"title":null}}},
"layer":[
{"data":{"name":"vr"},"transform":[{"filter":"datum.p==='d'"}],"mark":{"type":"rule","color":"#000","strokeWidth":1.3,"strokeDash":[1.5,3]},"encoding":{"y2":{"field":"y2"}}},
{"data":{"name":"cap"},"transform":[{"filter":"datum.p==='d'"}],"mark":{"type":"text","angle":90,"fontSize":9,"color":"#000","align":"center","baseline":"middle"},"encoding":{"text":{"field":"t"}}},
{"data":{"name":"cv"},"transform":[{"filter":"datum.p==='d'"}],"mark":{"type":"line","strokeWidth":1.3,"interpolate":"monotone"},"encoding":{"detail":{"field":"s"},"color":{"datum":"Thermal-P","scale":{"range":["#ee1c1c"]},"legend":{"title":null,"offset":2}}}}
]},
{"title":{"text":"e)","dx":-40,"offset":5},"width":252,"height":205,
"encoding":{"x":{"field":"x","type":"quantitative","scale":{"domain":[-0.05,1.05],"nice":false,"zero":false},"axis":{"values":[0,0.2,0.4,0.6,0.8,1],"format":".1f","title":"Normalized discharge capacity"}},"y":{"field":"y","type":"quantitative","scale":{"domain":[3.5,4.9],"nice":false,"zero":false},"axis":{"values":[3.5,3.6,3.7,3.8,3.9,4,4.1,4.2,4.3,4.4,4.5,4.6,4.7,4.8,4.9],"format":".1f","title":"Voltage (V vs. Li+/Li)"}}},
"layer":[
{"data":{"name":"vr"},"transform":[{"filter":"datum.p==='e'"}],"mark":{"type":"rule","color":"#777","strokeWidth":1,"strokeDash":[4,3]},"encoding":{"y2":{"field":"y2"}}},
{"data":{"name":"tx"},"transform":[{"filter":"datum.p==='e'"}],"mark":{"type":"text","fontSize":9.5,"color":"#000","align":"center","baseline":"middle"},"encoding":{"text":{"field":"t"}}},
{"data":{"name":"cv"},"transform":[{"filter":"datum.p==='e'"}],"mark":{"type":"line","strokeWidth":1.3,"interpolate":"monotone"},"encoding":{"detail":{"field":"s"},"color":{"datum":"Pristine-P","scale":{"range":["#000000"]},"legend":{"title":null,"offset":-1}}}}
]},
{"title":{"text":"f)","dx":-12,"offset":5},"width":252,"height":205,
"encoding":{"x":{"field":"x","type":"quantitative","scale":{"domain":[-0.05,1.05],"nice":false,"zero":false},"axis":{"values":[0,0.2,0.4,0.6,0.8,1],"format":".1f","title":"Normalized discharge capacity"}},"y":{"field":"y","type":"quantitative","scale":{"domain":[3.5,4.9],"nice":false,"zero":false},"axis":{"values":[3.5,3.6,3.7,3.8,3.9,4,4.1,4.2,4.3,4.4,4.5,4.6,4.7,4.8,4.9],"labels":false,"title":null}}},
"layer":[
{"data":{"name":"vr"},"transform":[{"filter":"datum.p==='f'"}],"mark":{"type":"rule","color":"#777","strokeWidth":1,"strokeDash":[4,3]},"encoding":{"y2":{"field":"y2"}}},
{"data":{"name":"tx"},"transform":[{"filter":"datum.p==='f'"}],"mark":{"type":"text","fontSize":9.5,"color":"#000","align":"center","baseline":"middle"},"encoding":{"text":{"field":"t"}}},
{"data":{"name":"cv"},"transform":[{"filter":"datum.p==='f'"}],"mark":{"type":"line","strokeWidth":1.3,"interpolate":"monotone"},"encoding":{"detail":{"field":"s"},"color":{"datum":"Chemical-P","scale":{"range":["#2a8a2a"]},"legend":{"title":null,"offset":-1}}}}
]},
{"title":{"text":"g)","dx":-10,"offset":5},"width":252,"height":205,
"encoding":{"x":{"field":"x","type":"quantitative","scale":{"domain":[-0.05,1.05],"nice":false,"zero":false},"axis":{"values":[0,0.2,0.4,0.6,0.8,1],"format":".1f","title":"Normalized discharge capacity"}},"y":{"field":"y","type":"quantitative","scale":{"domain":[3.5,4.9],"nice":false,"zero":false},"axis":{"values":[3.5,3.6,3.7,3.8,3.9,4,4.1,4.2,4.3,4.4,4.5,4.6,4.7,4.8,4.9],"labels":false,"title":null}}},
"layer":[
{"data":{"name":"vr"},"transform":[{"filter":"datum.p==='g'"}],"mark":{"type":"rule","color":"#777","strokeWidth":1,"strokeDash":[4,3]},"encoding":{"y2":{"field":"y2"}}},
{"data":{"name":"tx"},"transform":[{"filter":"datum.p==='g'"}],"mark":{"type":"text","fontSize":9.5,"color":"#000","align":"center","baseline":"middle"},"encoding":{"text":{"field":"t"}}},
{"data":{"name":"cv"},"transform":[{"filter":"datum.p==='g'"}],"mark":{"type":"line","strokeWidth":1.3,"interpolate":"monotone"},"encoding":{"detail":{"field":"s"},"color":{"datum":"Mechanical-P","scale":{"range":["#1414e6"]},"legend":{"title":null,"offset":-1}}}}
]},
{"title":{"text":"h)","dx":-10,"offset":5},"width":252,"height":205,
"encoding":{"x":{"field":"x","type":"quantitative","scale":{"domain":[-0.05,1.05],"nice":false,"zero":false},"axis":{"values":[0,0.2,0.4,0.6,0.8,1],"format":".1f","title":"Normalized discharge capacity"}},"y":{"field":"y","type":"quantitative","scale":{"domain":[3.5,4.9],"nice":false,"zero":false},"axis":{"values":[3.5,3.6,3.7,3.8,3.9,4,4.1,4.2,4.3,4.4,4.5,4.6,4.7,4.8,4.9],"labels":false,"title":null}}},
"layer":[
{"data":{"name":"vr"},"transform":[{"filter":"datum.p==='h'"}],"mark":{"type":"rule","color":"#777","strokeWidth":1,"strokeDash":[4,3]},"encoding":{"y2":{"field":"y2"}}},
{"data":{"name":"tx"},"transform":[{"filter":"datum.p==='h'"}],"mark":{"type":"text","fontSize":9.5,"color":"#000","align":"center","baseline":"middle"},"encoding":{"text":{"field":"t"}}},
{"data":{"name":"cv"},"transform":[{"filter":"datum.p==='h'"}],"mark":{"type":"line","strokeWidth":1.3,"interpolate":"monotone"},"encoding":{"detail":{"field":"s"},"color":{"datum":"Thermal-P","scale":{"range":["#ee1c1c"]},"legend":{"title":null,"offset":-1}}}}
]},
{"title":{"text":"i)","dx":-8,"offset":13},"width":252,"height":204,
"encoding":{"x":{"field":"x","type":"quantitative","scale":{"domain":[4.5,4.9],"nice":false,"zero":false},"axis":{"values":[4.5,4.6,4.7,4.8,4.9],"format":".1f","title":"Voltage (V vs. Li+/Li)"}},"y":{"field":"y","type":"quantitative","scale":{"domain":[0,100],"nice":false,"zero":false},"axis":{"labels":false,"ticks":false,"title":"dQ/dU (Ahg⁻¹V⁻¹)"}}},
"layer":[
{"data":{"name":"vr"},"transform":[{"filter":"datum.p==='i'"}],"mark":{"type":"rule","color":"#aaa","strokeWidth":1},"encoding":{"y2":{"field":"y2"}}},
{"data":{"name":"ar"},"transform":[{"filter":"datum.p==='i'"}],"mark":{"type":"rule","color":"#888","strokeWidth":1},"encoding":{"x2":{"field":"x2"}}},
{"data":{"name":"ar"},"transform":[{"filter":"datum.p==='i'"}],"mark":{"type":"point","shape":"triangle-left","filled":true,"size":18,"color":"#222","opacity":1}},
{"data":{"name":"ar"},"transform":[{"filter":"datum.p==='i'"}],"mark":{"type":"point","shape":"triangle-right","filled":true,"size":18,"color":"#222","opacity":1},"encoding":{"x":{"field":"x2","type":"quantitative","title":"Voltage (V vs. Li+/Li)"}}},
{"data":{"name":"tx"},"transform":[{"filter":"datum.p==='i'"}],"mark":{"type":"text","fontSize":10.5,"color":"#000","align":"center","baseline":"middle"},"encoding":{"text":{"field":"t"}}},
{"data":{"name":"cv"},"transform":[{"filter":"datum.p==='i'"}],"mark":{"type":"line","strokeWidth":1.4,"interpolate":"monotone"},"encoding":{"detail":{"field":"s"},"color":{"datum":"Pristine-P","scale":{"range":["#000000"]},"legend":{"title":null,"offset":3}}}}
]},
{"title":{"text":"j)","dx":-9,"offset":13},"width":252,"height":204,
"encoding":{"x":{"field":"x","type":"quantitative","scale":{"domain":[4.5,4.9],"nice":false,"zero":false},"axis":{"values":[4.5,4.6,4.7,4.8,4.9],"format":".1f","title":"Voltage (V vs. Li+/Li)"}},"y":{"field":"y","type":"quantitative","scale":{"domain":[0,100],"nice":false,"zero":false},"axis":null}},
"layer":[
{"data":{"name":"vr"},"transform":[{"filter":"datum.p==='j'"}],"mark":{"type":"rule","color":"#aaa","strokeWidth":1},"encoding":{"y2":{"field":"y2"}}},
{"data":{"name":"ar"},"transform":[{"filter":"datum.p==='j'"}],"mark":{"type":"rule","color":"#888","strokeWidth":1},"encoding":{"x2":{"field":"x2"}}},
{"data":{"name":"ar"},"transform":[{"filter":"datum.p==='j'"}],"mark":{"type":"point","shape":"triangle-left","filled":true,"size":18,"color":"#222","opacity":1}},
{"data":{"name":"ar"},"transform":[{"filter":"datum.p==='j'"}],"mark":{"type":"point","shape":"triangle-right","filled":true,"size":18,"color":"#222","opacity":1},"encoding":{"x":{"field":"x2","type":"quantitative","title":"Voltage (V vs. Li+/Li)"}}},
{"data":{"name":"tx"},"transform":[{"filter":"datum.p==='j'"}],"mark":{"type":"text","fontSize":10.5,"color":"#000","align":"center","baseline":"middle"},"encoding":{"text":{"field":"t"}}},
{"data":{"name":"cv"},"transform":[{"filter":"datum.p==='j'"}],"mark":{"type":"line","strokeWidth":1.4,"interpolate":"monotone"},"encoding":{"detail":{"field":"s"},"color":{"datum":"Chemical-P","scale":{"range":["#2a8a2a"]},"legend":{"title":null,"offset":3,"symbolOpacity":0,"symbolSize":16}}}}
]},
{"title":{"text":"k)","dx":-9,"offset":13},"width":252,"height":204,
"encoding":{"x":{"field":"x","type":"quantitative","scale":{"domain":[4.5,4.9],"nice":false,"zero":false},"axis":{"values":[4.5,4.6,4.7,4.8,4.9],"format":".1f","title":"Voltage (V vs. Li+/Li)"}},"y":{"field":"y","type":"quantitative","scale":{"domain":[0,100],"nice":false,"zero":false},"axis":null}},
"layer":[
{"data":{"name":"vr"},"transform":[{"filter":"datum.p==='k'"}],"mark":{"type":"rule","color":"#aaa","strokeWidth":1},"encoding":{"y2":{"field":"y2"}}},
{"data":{"name":"ar"},"transform":[{"filter":"datum.p==='k'"}],"mark":{"type":"rule","color":"#888","strokeWidth":1},"encoding":{"x2":{"field":"x2"}}},
{"data":{"name":"ar"},"transform":[{"filter":"datum.p==='k'"}],"mark":{"type":"point","shape":"triangle-left","filled":true,"size":18,"color":"#222","opacity":1}},
{"data":{"name":"ar"},"transform":[{"filter":"datum.p==='k'"}],"mark":{"type":"point","shape":"triangle-right","filled":true,"size":18,"color":"#222","opacity":1},"encoding":{"x":{"field":"x2","type":"quantitative","title":"Voltage (V vs. Li+/Li)"}}},
{"data":{"name":"tx"},"transform":[{"filter":"datum.p==='k'"}],"mark":{"type":"text","fontSize":10.5,"color":"#000","align":"center","baseline":"middle"},"encoding":{"text":{"field":"t"}}},
{"data":{"name":"cv"},"transform":[{"filter":"datum.p==='k'"}],"mark":{"type":"line","strokeWidth":1.4,"interpolate":"monotone"},"encoding":{"detail":{"field":"s"},"color":{"datum":"Mechanical-P","scale":{"range":["#1414e6"]},"legend":{"title":null,"offset":3}}}}
]},
{"title":{"text":"l)","dx":-9,"offset":13},"width":252,"height":204,
"encoding":{"x":{"field":"x","type":"quantitative","scale":{"domain":[4.5,4.9],"nice":false,"zero":false},"axis":{"values":[4.5,4.6,4.7,4.8,4.9],"format":".1f","title":"Voltage (V vs. Li+/Li)"}},"y":{"field":"y","type":"quantitative","scale":{"domain":[0,100],"nice":false,"zero":false},"axis":null}},
"layer":[
{"data":{"name":"vr"},"transform":[{"filter":"datum.p==='l'"}],"mark":{"type":"rule","color":"#aaa","strokeWidth":1},"encoding":{"y2":{"field":"y2"}}},
{"data":{"name":"ar"},"transform":[{"filter":"datum.p==='l'"}],"mark":{"type":"rule","color":"#888","strokeWidth":1},"encoding":{"x2":{"field":"x2"}}},
{"data":{"name":"ar"},"transform":[{"filter":"datum.p==='l'"}],"mark":{"type":"point","shape":"triangle-left","filled":true,"size":18,"color":"#222","opacity":1}},
{"data":{"name":"ar"},"transform":[{"filter":"datum.p==='l'"}],"mark":{"type":"point","shape":"triangle-right","filled":true,"size":18,"color":"#222","opacity":1},"encoding":{"x":{"field":"x2","type":"quantitative","title":"Voltage (V vs. Li+/Li)"}}},
{"data":{"name":"tx"},"transform":[{"filter":"datum.p==='l'"}],"mark":{"type":"text","fontSize":10.5,"color":"#000","align":"center","baseline":"middle"},"encoding":{"text":{"field":"t"}}},
{"data":{"name":"cv"},"transform":[{"filter":"datum.p==='l'"}],"mark":{"type":"line","strokeWidth":1.4,"interpolate":"monotone"},"encoding":{"detail":{"field":"s"},"color":{"datum":"Thermal-P","scale":{"range":["#ee1c1c"]},"legend":{"title":null,"offset":3}}}}
]}
]
}
